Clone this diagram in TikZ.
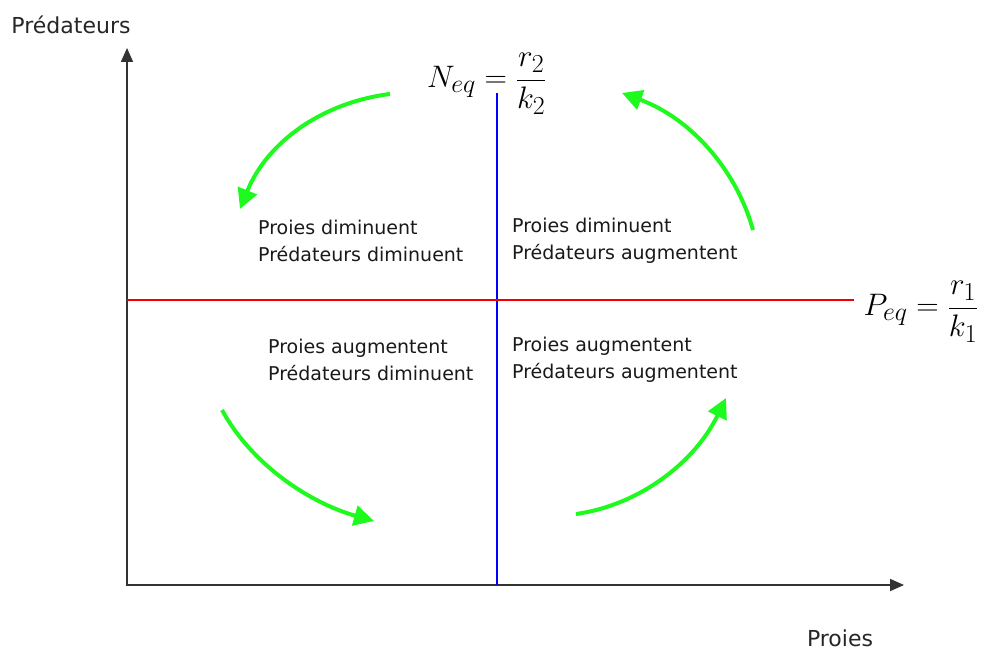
\documentclass[tikz,border=0pt]{standalone}
\usepackage{fontspec}
\setmainfont{DejaVu Sans}
\usetikzlibrary{arrows.meta, positioning}
\definecolor{vertvif}{RGB}{30,250,30}
\definecolor{bleuiso}{RGB}{0,0,255}
\definecolor{rougeiso}{RGB}{240,0,0}
\newcommand{\grandeq}[1]{\scalebox{1.25}{$\displaystyle #1$}}

\begin{document}
\begin{tikzpicture}[
  x=1pt, y=-1pt,
  axe/.style={draw=black!80, line width=1.8pt, {Triangle[length=14pt, width=12pt]}-{Triangle[length=14pt, width=12pt]}},
  tendance/.style={draw=vertvif, line width=4pt, -{Triangle[length=20pt, width=20pt]}},
  quadrant/.style={anchor=west, align=left, text=black!90, font=\fontsize{19}{27}\selectfont, inner sep=0pt},
  titre/.style={text=black!85, font=\fontsize{22}{26}\selectfont, inner sep=1pt},
  equil/.style={font=\fontsize{24.88}{30}\selectfont, inner sep=0pt}
]
  \useasboundingbox (0,0) rectangle (981,652);

  % Axes
  \coordinate (O) at (127,585);
  \coordinate (ytop) at (127,48);
  \coordinate (xend) at (904,585);
  \draw[axe] (ytop) -- (O) -- (xend);
  \node[titre] (ylab) at (71,25) {Prédateurs};
  \node[titre] (xlab) at (840,638) {Proies};

  % Isoclines et équilibres
  \node[equil] (Neq) at (487,84) {\grandeq{N_{eq}=\frac{r_2}{k_2}}};
  \node[equil, anchor=east] (Peq) at (979,312) {\grandeq{P_{eq}=\frac{r_1}{k_1}}};
  \coordinate (Ntop) at (497,93);
  \draw[bleuiso, line width=1.3pt] (Ntop) -- (Ntop |- O);
  \draw[rougeiso, line width=1.2pt] (O |- Peq.west) ++(0,-12) coordinate (Pstart) -- ([xshift=-9pt]Peq.west |- Pstart);

  % Quadrants
  \node[quadrant] (q2) at (258,241) {Proies diminuent\\Prédateurs diminuent};
  \node[quadrant] (q1) at (512,241) {Proies diminuent\\Prédateurs augmentent};
  \node[quadrant] (q3) at (268,360) {Proies augmentent\\Prédateurs diminuent};
  \node[quadrant] (q4) at (512,360) {Proies augmentent\\Prédateurs augmentent};

  % Sens du cycle
  \coordinate (a1) at (390,94);  \coordinate (b1) at (240,209);
  \coordinate (a2) at (753,230); \coordinate (b2) at (622,93);
  \coordinate (a3) at (222,410); \coordinate (b3) at (374,521);
  \coordinate (a4) at (576,514); \coordinate (b4) at (726,398);
  \draw[tendance] (a1) .. controls (325,102) and (268,140) .. (b1);
  \draw[tendance] (a2) .. controls (738,175) and (695,120) .. (b2);
  \draw[tendance] (a3) .. controls (252,465) and (310,503) .. (b3);
  \draw[tendance] (a4) .. controls (640,505) and (695,462) .. (b4);

\end{tikzpicture}
\end{document}
